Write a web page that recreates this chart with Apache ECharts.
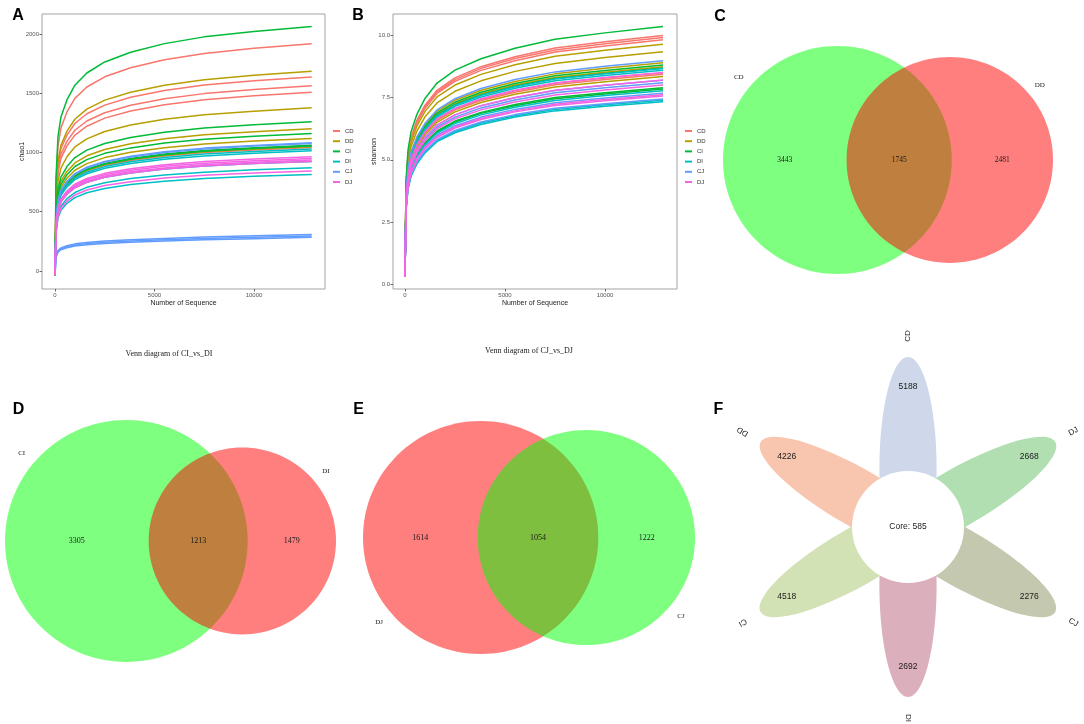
<!DOCTYPE html>
<html><head><meta charset="utf-8">
<script src="https://cdn.jsdelivr.net/npm/echarts@6/dist/echarts.min.js"></script>
<style>html,body{margin:0;padding:0;background:#fff}#c{width:1084px;height:724px}</style>
</head><body><div id="c"></div>
<script>
// ================= DATA =================
const groups = ['CD', 'DD', 'CI', 'DI', 'CJ', 'DJ'];
const seqDepth = [0, 50, 150, 300, 600, 1000, 1600, 2500, 3800, 5500, 7500, 10000, 12900];
const seqTicks = [0, 5000, 10000];
const chao1Ticks = [0, 500, 1000, 1500, 2000];
const shannonTicks = [0, 2.5, 5, 7.5, 10];

// chao1 rarefaction curves (values at seqDepth), 5 samples per group
const chao1CD = [
  [-35, 728, 1054, 1208, 1342, 1457, 1553, 1639, 1716, 1783, 1836, 1879, 1917],
  [-35, 622, 901, 1032, 1147, 1245, 1327, 1400, 1466, 1523, 1569, 1605, 1638],
  [-35, 594, 860, 985, 1094, 1188, 1266, 1336, 1399, 1454, 1497, 1532, 1563],
  [-35, 573, 830, 951, 1056, 1147, 1222, 1290, 1351, 1403, 1446, 1479, 1509],
  [-35, 396, 574, 657, 730, 793, 845, 892, 933, 970, 999, 1022, 1043]
];
const chao1DD = [
  [-35, 641, 927, 1062, 1180, 1281, 1366, 1442, 1509, 1568, 1615, 1652, 1686],
  [-35, 523, 757, 868, 964, 1047, 1115, 1177, 1232, 1281, 1319, 1349, 1377],
  [-35, 456, 660, 756, 840, 912, 972, 1026, 1074, 1116, 1150, 1176, 1200],
  [-35, 425, 615, 705, 783, 850, 906, 957, 1002, 1041, 1072, 1097, 1119],
  [-35, 399, 578, 662, 735, 798, 851, 898, 940, 977, 1006, 1029, 1050]
];
const chao1CI = [
  [-35, 784, 1135, 1300, 1444, 1568, 1671, 1764, 1846, 1919, 1976, 2022, 2063],
  [-35, 478, 692, 793, 881, 957, 1020, 1076, 1127, 1171, 1206, 1234, 1259],
  [-35, 441, 639, 731, 813, 882, 940, 993, 1039, 1080, 1112, 1138, 1161],
  [-35, 404, 584, 669, 743, 807, 860, 908, 950, 988, 1017, 1041, 1062],
  [-35, 401, 580, 665, 739, 802, 855, 902, 944, 981, 1011, 1034, 1055]
];
const chao1DI = [
  [-35, 391, 567, 649, 721, 783, 834, 881, 922, 958, 987, 1009, 1030],
  [-35, 385, 558, 639, 710, 771, 821, 867, 908, 943, 971, 994, 1014],
  [-35, 352, 509, 583, 648, 703, 749, 791, 828, 860, 886, 907, 925],
  [-35, 331, 479, 549, 610, 662, 706, 745, 780, 810, 834, 854, 871],
  [-35, 310, 448, 513, 571, 619, 660, 697, 729, 758, 781, 799, 815]
];
const chao1CJ = [
  [-35, 411, 595, 682, 757, 822, 876, 925, 968, 1006, 1037, 1060, 1082],
  [-35, 409, 591, 677, 753, 817, 871, 919, 962, 1000, 1030, 1054, 1075],
  [-35, 124, 173, 195, 213, 229, 241, 253, 264, 275, 286, 297, 309],
  [-35, 118, 166, 186, 204, 219, 231, 243, 253, 263, 274, 284, 296],
  [-35, 114, 159, 179, 196, 210, 222, 233, 243, 253, 263, 273, 284]
];
const chao1DJ = [
  [-35, 366, 530, 607, 675, 733, 781, 824, 863, 897, 924, 945, 964],
  [-35, 361, 523, 599, 665, 722, 770, 812, 850, 884, 910, 931, 950],
  [-35, 356, 515, 590, 655, 711, 758, 800, 838, 870, 897, 917, 936],
  [-35, 352, 509, 583, 648, 703, 749, 791, 828, 860, 886, 907, 925],
  [-35, 320, 464, 531, 590, 641, 683, 721, 754, 784, 808, 826, 843]
];

// shannon rarefaction curves (values at seqDepth)
const shannonCD = [
  [0.3, 4.0, 5.2, 5.9, 6.6, 7.2, 7.8, 8.3, 8.75, 9.15, 9.5, 9.75, 10.0],
  [0.3, 3.97, 5.16, 5.85, 6.55, 7.14, 7.74, 8.23, 8.68, 9.08, 9.42, 9.67, 9.92],
  [0.3, 3.93, 5.11, 5.8, 6.49, 7.08, 7.67, 8.16, 8.6, 8.99, 9.34, 9.58, 9.83],
  [0.3, 3.4, 4.42, 5.02, 5.61, 6.12, 6.63, 7.06, 7.44, 7.78, 8.08, 8.29, 8.5],
  [0.3, 3.38, 4.39, 4.98, 5.57, 6.08, 6.58, 7.01, 7.39, 7.72, 8.02, 8.23, 8.44]
];
const shannonDD = [
  [0.3, 3.86, 5.02, 5.69, 6.37, 6.95, 7.53, 8.01, 8.44, 8.83, 9.17, 9.41, 9.65],
  [0.3, 3.74, 4.86, 5.52, 6.17, 6.73, 7.29, 7.76, 8.18, 8.56, 8.88, 9.12, 9.35],
  [0.3, 3.56, 4.63, 5.26, 5.88, 6.42, 6.95, 7.4, 7.8, 8.15, 8.46, 8.69, 8.91],
  [0.3, 3.5, 4.55, 5.16, 5.78, 6.3, 6.83, 7.26, 7.66, 8.01, 8.31, 8.53, 8.75],
  [0.3, 3.34, 4.34, 4.93, 5.51, 6.01, 6.51, 6.93, 7.31, 7.64, 7.93, 8.14, 8.35]
];
const shannonCI = [
  [0.3, 4.15, 5.39, 6.12, 6.84, 7.47, 8.09, 8.61, 9.07, 9.49, 9.85, 10.11, 10.37],
  [0.3, 3.53, 4.59, 5.2, 5.82, 6.35, 6.88, 7.32, 7.72, 8.07, 8.38, 8.6, 8.82],
  [0.3, 3.48, 4.52, 5.13, 5.74, 6.26, 6.79, 7.22, 7.61, 7.96, 8.27, 8.48, 8.7],
  [0.3, 3.16, 4.11, 4.66, 5.21, 5.69, 6.16, 6.56, 6.91, 7.23, 7.51, 7.7, 7.9],
  [0.3, 3.14, 4.08, 4.63, 5.18, 5.65, 6.12, 6.52, 6.87, 7.18, 7.46, 7.65, 7.85]
];
const shannonDI = [
  [0.3, 3.47, 4.51, 5.12, 5.73, 6.25, 6.77, 7.2, 7.6, 7.94, 8.25, 8.46, 8.68],
  [0.3, 3.44, 4.48, 5.08, 5.68, 6.2, 6.72, 7.15, 7.53, 7.88, 8.18, 8.39, 8.61],
  [0.3, 3.11, 4.05, 4.59, 5.13, 5.6, 6.07, 6.46, 6.81, 7.12, 7.39, 7.59, 7.78],
  [0.3, 2.96, 3.85, 4.37, 4.88, 5.33, 5.77, 6.14, 6.48, 6.77, 7.03, 7.22, 7.4],
  [0.3, 2.94, 3.82, 4.33, 4.84, 5.28, 5.73, 6.09, 6.42, 6.72, 6.97, 7.16, 7.34]
];
const shannonCJ = [
  [0.3, 3.6, 4.67, 5.3, 5.93, 6.47, 7.01, 7.46, 7.87, 8.23, 8.54, 8.77, 8.99],
  [0.3, 3.28, 4.26, 4.84, 5.41, 5.9, 6.4, 6.81, 7.18, 7.5, 7.79, 8.0, 8.2],
  [0.3, 3.24, 4.21, 4.78, 5.35, 5.83, 6.32, 6.72, 7.09, 7.41, 7.7, 7.9, 8.1],
  [0.3, 3.07, 3.99, 4.53, 5.07, 5.53, 5.99, 6.37, 6.72, 7.03, 7.3, 7.49, 7.68],
  [0.3, 2.98, 3.87, 4.4, 4.92, 5.36, 5.81, 6.18, 6.52, 6.82, 7.08, 7.26, 7.45]
];
const shannonDJ = [
  [0.3, 3.41, 4.43, 5.03, 5.62, 6.13, 6.65, 7.07, 7.46, 7.8, 8.09, 8.31, 8.52],
  [0.3, 3.28, 4.27, 4.84, 5.42, 5.91, 6.4, 6.81, 7.18, 7.51, 7.8, 8.0, 8.21],
  [0.3, 3.2, 4.17, 4.73, 5.29, 5.77, 6.25, 6.65, 7.01, 7.33, 7.61, 7.81, 8.01],
  [0.3, 3.05, 3.96, 4.5, 5.03, 5.49, 5.94, 6.32, 6.67, 6.97, 7.24, 7.43, 7.62],
  [0.3, 3.03, 3.94, 4.47, 5.0, 5.45, 5.9, 6.28, 6.62, 6.93, 7.19, 7.38, 7.57]
];

// Venn diagrams: [only left, shared, only right]
const vennCSets = ['CD', 'DD'];
const vennCCounts = [3443, 1745, 2481];
const vennDSets = ['CI', 'DI'];
const vennDCounts = [3305, 1213, 1479];
const vennESets = ['DJ', 'CJ'];
const vennECounts = [1614, 1054, 1222];
const vennDTitle = 'Venn diagram of CI_vs_DI';
const vennETitle = 'Venn diagram of CJ_vs_DJ';

// Flower diagram
const flowerSets = ['CD', 'DJ', 'CJ', 'DI', 'CI', 'DD'];
const flowerCounts = [5188, 2668, 2276, 2692, 4518, 4226];
const flowerCore = 585;

// ================= STYLE / LAYOUT =================
const groupColors = ['#F8766D', '#B79F00', '#00BA38', '#00BFC4', '#619CFF', '#F564E3'];
const petalColors = ['#CFD8EA', '#B1DFB2', '#C4C8AE', '#DCAFBC', '#D2E2B5', '#F8C5AF'];
const GREEN = 'rgba(0,255,0,0.5)', RED = 'rgba(255,0,0,0.5)';
const SANS = 'Liberation Sans', SERIF = 'Liberation Serif';

const chao1Data = [chao1CD, chao1DD, chao1CI, chao1DI, chao1CJ, chao1DJ];
const shannonData = [shannonCD, shannonDD, shannonCI, shannonDI, shannonCJ, shannonDJ];

const option = {
  animation: false,
  backgroundColor: '#fff',
  textStyle: { fontFamily: SANS },
  grid: [], xAxis: [], yAxis: [], series: [], legend: [], graphic: []
};

// ---------- rarefaction panels ----------
function rarePanel(gi, rect, xr, yr, yTicks, yName, yGap, yFmt, data, legendLeft) {
  option.grid.push(Object.assign({ show: true, borderColor: '#a3a3a3', borderWidth: 1, backgroundColor: '#fff', outerBoundsMode: 'none' }, rect));
  option.xAxis.push({
    gridIndex: gi, type: 'value', min: xr[0], max: xr[1], position: 'bottom',
    axisLine: { show: false, onZero: false }, splitLine: { show: false },
    axisTick: { show: true, length: 2.5, lineStyle: { color: '#444', width: 0.8 }, customValues: seqTicks },
    axisLabel: { customValues: seqTicks, fontSize: 6, color: '#555', margin: 3, formatter: v => String(v) },
    name: 'Number of Sequence', nameLocation: 'middle', nameGap: 11, nameMoveOverlap: false,
    nameTextStyle: { fontSize: 7, color: '#222' }
  });
  option.yAxis.push({
    gridIndex: gi, type: 'value', min: yr[0], max: yr[1], position: 'left',
    axisLine: { show: false, onZero: false }, splitLine: { show: false },
    axisTick: { show: true, length: 2.5, lineStyle: { color: '#444', width: 0.8 }, customValues: yTicks },
    axisLabel: { customValues: yTicks, fontSize: 6, color: '#555', margin: 3, formatter: yFmt },
    name: yName, nameLocation: 'middle', nameRotate: 90, nameGap: yGap, nameMoveOverlap: false,
    nameTextStyle: { fontSize: 7, color: '#222' }
  });
  data.forEach((grp, g) => {
    grp.forEach(vals => {
      option.series.push({
        type: 'line', name: groups[g], xAxisIndex: gi, yAxisIndex: gi,
        data: seqDepth.map((x, k) => [x, vals[k]]),
        showSymbol: false, symbol: 'none', smooth: false,
        lineStyle: { width: 1.5, color: groupColors[g], join: 'round' }, itemStyle: { color: groupColors[g] },
        silent: true
      });
    });
  });
  option.legend.push({
    data: groups, orient: 'vertical', left: legendLeft, top: 127, padding: 0,
    icon: 'rect', itemWidth: 7, itemHeight: 2, itemGap: 2.2, selectedMode: false,
    textStyle: { fontSize: 6, color: '#333', lineHeight: 8 }
  });
}
rarePanel(0, { left: 42, top: 14, width: 283, height: 275 }, [-653, 13568], [-152, 2169],
  chao1Ticks, 'chao1', 16, v => String(v), chao1Data, 333);
rarePanel(1, { left: 393, top: 14, width: 284, height: 275 }, [-600, 13600], [-0.2, 10.87],
  shannonTicks, 'shannon', 15, v => v.toFixed(1), shannonData, 685);

// ---------- Venn panels ----------
function lensArea(r1, r2, d) {
  if (d >= r1 + r2) return 0;
  if (d <= Math.abs(r1 - r2)) return Math.PI * Math.min(r1, r2) ** 2;
  const a1 = Math.acos((d * d + r1 * r1 - r2 * r2) / (2 * d * r1));
  const a2 = Math.acos((d * d + r2 * r2 - r1 * r1) / (2 * d * r2));
  const t = Math.sqrt((-d + r1 + r2) * (d + r1 - r2) * (d - r1 + r2) * (d + r1 + r2));
  return r1 * r1 * a1 + r2 * r2 * a2 - 0.5 * t;
}
function solveDist(r1, r2, shared) {
  const target = Math.PI * shared;
  let lo = Math.abs(r1 - r2), hi = r1 + r2;
  for (let i = 0; i < 80; i++) {
    const mid = (lo + hi) / 2;
    if (lensArea(r1, r2, mid) > target) lo = mid; else hi = mid;
  }
  return (lo + hi) / 2;
}
function vennPanel(gi, rect, sets, counts, colors, catPos, catGap, numSize, catSize) {
  const r1 = Math.sqrt(counts[0] + counts[1]);
  const r2 = Math.sqrt(counts[2] + counts[1]);
  const d = solveDist(r1, r2, counts[1]);
  const rm = Math.max(r1, r2);
  option.grid.push(Object.assign({ show: false, outerBoundsMode: 'none' }, rect));
  option.xAxis.push({ gridIndex: gi, type: 'value', show: false, min: -r1, max: d + r2 });
  option.yAxis.push({ gridIndex: gi, type: 'value', show: false, min: -rm, max: rm });
  const circles = [[0, 0, r1], [d, 0, r2]];
  option.series.push({
    type: 'custom', xAxisIndex: gi, yAxisIndex: gi, silent: true, clip: false,
    data: circles, encode: { x: 0, y: 1 },
    renderItem: (params, api) => {
      const c = api.coord([api.value(0), api.value(1)]);
      const s = api.size([api.value(2), api.value(2)]);
      return { type: 'ellipse', shape: { cx: c[0], cy: c[1], rx: s[0], ry: s[1] },
        style: { fill: colors[params.dataIndex] } };
    }
  });
  const texts = [], pts = [], sizes = [];
  pts.push([(-r1 + d - r2) / 2, 0]); texts.push(String(counts[0])); sizes.push(numSize);
  pts.push([(d - r2 + r1) / 2, 0]); texts.push(String(counts[1])); sizes.push(numSize);
  pts.push([(r1 + d + r2) / 2, 0]); texts.push(String(counts[2])); sizes.push(numSize);
  circles.forEach((c, i) => {
    const a = catPos[i] * Math.PI / 180, rr = c[2] + catGap;
    pts.push([c[0] + rr * Math.sin(a), c[1] + rr * Math.cos(a)]);
    texts.push(sets[i]); sizes.push(catSize);
  });
  option.series.push({
    type: 'custom', xAxisIndex: gi, yAxisIndex: gi, silent: true, z: 5, clip: false,
    data: pts, encode: { x: 0, y: 1 },
    renderItem: (params, api) => {
      const p = api.coord([api.value(0), api.value(1)]);
      return { type: 'text', x: p[0], y: p[1],
        style: { text: texts[params.dataIndex], fontSize: sizes[params.dataIndex], fontFamily: SERIF,
          fill: '#1a1a1a', align: 'center', verticalAlign: 'middle' } };
    }
  });
}
vennPanel(2, { left: 723, top: 46, width: 330, height: 228 }, vennCSets, vennCCounts, [GREEN, RED], [-50, 50], 9, 7.5, 7);
vennPanel(3, { left: 5, top: 420, width: 331, height: 242 }, vennDSets, vennDCounts, [GREEN, RED], [-50, 50], 8.5, 8, 7);
vennPanel(4, { left: 363, top: 421, width: 332, height: 233 }, vennESets, vennECounts, [RED, GREEN], [230, 130], 6.5, 8, 7);

// ---------- Flower panel ----------
const PET_D = 58, PET_A = 112, PET_B = 28.6, CORE_R = 56, NUM_R = 140, NAME_R = 191;
option.grid.push({ show: false, left: 708, top: 327, width: 400, height: 400, outerBoundsMode: 'none' });
option.xAxis.push({ gridIndex: 5, type: 'value', show: false, min: -200, max: 200 });
option.yAxis.push({ gridIndex: 5, type: 'value', show: false, min: -200, max: 200 });
const petalAng = flowerSets.map((s, i) => (90 - 60 * i) * Math.PI / 180);
option.series.push({
  type: 'custom', xAxisIndex: 5, yAxisIndex: 5, silent: true, clip: false,
  data: petalAng.map(a => [PET_D * Math.cos(a), PET_D * Math.sin(a)]), encode: { x: 0, y: 1 },
  renderItem: (params, api) => {
    const c = api.coord([api.value(0), api.value(1)]);
    const s = api.size([PET_A, PET_B]);
    return { type: 'ellipse', x: c[0], y: c[1], rotation: petalAng[params.dataIndex],
      shape: { cx: 0, cy: 0, rx: s[0], ry: s[1] }, style: { fill: petalColors[params.dataIndex] } };
  }
});
option.series.push({
  type: 'custom', xAxisIndex: 5, yAxisIndex: 5, silent: true, z: 4, clip: false,
  data: [[0, 0]], encode: { x: 0, y: 1 },
  renderItem: (params, api) => {
    const c = api.coord([0, 0]);
    const s = api.size([CORE_R, CORE_R]);
    return { type: 'group', children: [
      { type: 'ellipse', shape: { cx: c[0], cy: c[1], rx: s[0], ry: s[1] }, style: { fill: '#fff' } },
      { type: 'text', x: c[0], y: c[1], style: { text: 'Core: ' + flowerCore, fontSize: 8.5, fontFamily: SANS,
        fill: '#1a1a1a', align: 'center', verticalAlign: 'middle' } }
    ] };
  }
});
const flTexts = [], flPts = [], flRot = [], flSize = [];
petalAng.forEach((a, i) => {
  flPts.push([NUM_R * Math.cos(a), NUM_R * Math.sin(a)]); flTexts.push(String(flowerCounts[i])); flRot.push(0); flSize.push(8.5);
  flPts.push([NAME_R * Math.cos(a), NAME_R * Math.sin(a)]); flTexts.push(flowerSets[i]); flRot.push(a); flSize.push(8);
});
option.series.push({
  type: 'custom', xAxisIndex: 5, yAxisIndex: 5, silent: true, z: 5, clip: false,
  data: flPts, encode: { x: 0, y: 1 },
  renderItem: (params, api) => {
    const p = api.coord([api.value(0), api.value(1)]);
    const i = params.dataIndex;
    return { type: 'text', x: p[0], y: p[1], rotation: flRot[i],
      style: { text: flTexts[i], fontSize: flSize[i], fontFamily: SANS, fill: '#1a1a1a', align: 'center', verticalAlign: 'middle' } };
  }
});

// ---------- panel letters & titles ----------
[['A', 18, 16], ['B', 358, 16], ['C', 720, 17], ['D', 18.5, 410], ['E', 358.5, 410], ['F', 718.5, 410]].forEach(t => {
  option.graphic.push({ type: 'text', x: t[1], y: t[2], z: 10,
    style: { text: t[0], fontSize: 16, fontWeight: 'bold', fontFamily: SANS, fill: '#000', align: 'center', verticalAlign: 'middle' } });
});
option.graphic.push({ type: 'text', x: 169, y: 354, style: { text: vennDTitle, fontSize: 8, fontFamily: SERIF, fill: '#222', align: 'center', verticalAlign: 'middle' } });
option.graphic.push({ type: 'text', x: 529, y: 351, style: { text: vennETitle, fontSize: 8, fontFamily: SERIF, fill: '#222', align: 'center', verticalAlign: 'middle' } });

const chart = echarts.init(document.getElementById('c'), null, { renderer: 'canvas' });
chart.setOption(option);
</script>
</body></html>
